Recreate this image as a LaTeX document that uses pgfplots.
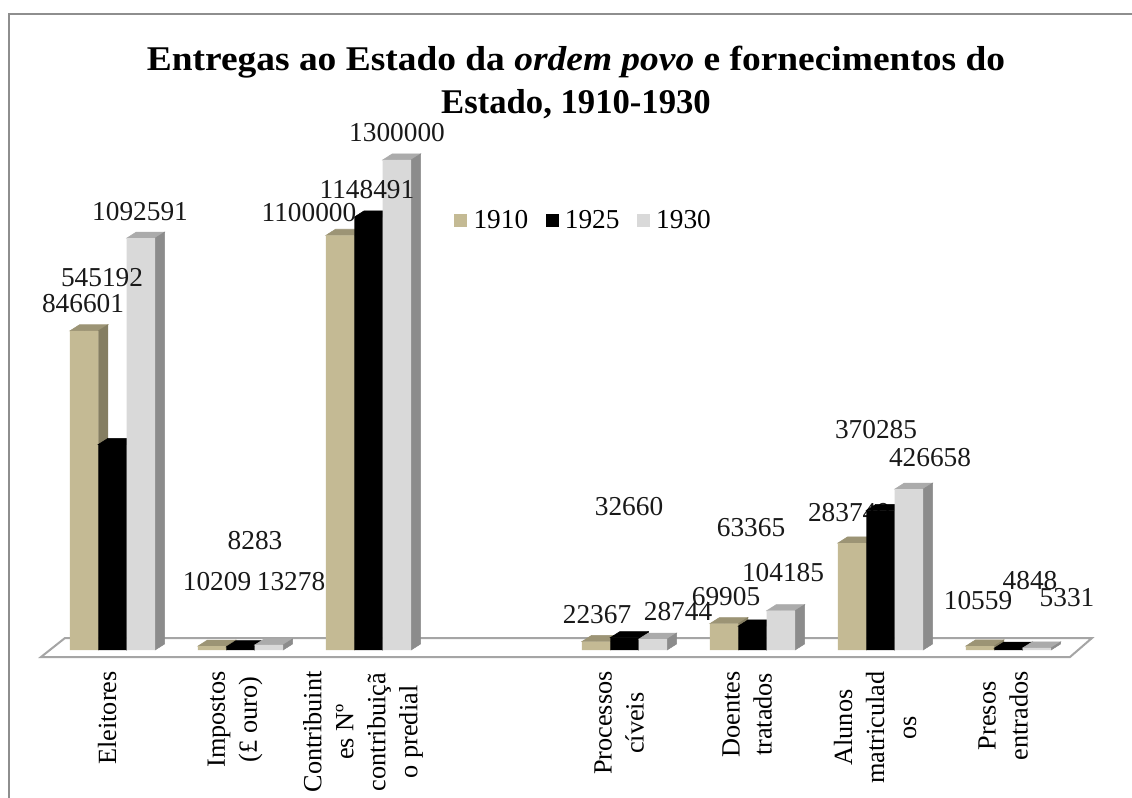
\documentclass[border=0pt]{standalone}
\usepackage{pgfplots}
\pgfplotsset{compat=1.18}
\usepackage{pgfplotstable}
\usepackage{fontspec}
\setmainfont{Liberation Serif}

\definecolor{tanF}{HTML}{C4BA94}
\definecolor{tanS}{HTML}{857E62}
\definecolor{tanT}{HTML}{9C9475}
\definecolor{greyF}{HTML}{D9D9D9}
\definecolor{greyS}{HTML}{8C8C8C}
\definecolor{greyT}{HTML}{ABABAB}
\definecolor{frame}{HTML}{8E8E8E}

% group position (3 is the empty slot of the original), value
\pgfplotstableread{
g v
0 846601
1 10209
2 1100000
4 22367
5 69905
6 283740
7 10559
}\yearA
\pgfplotstableread{
g v
0 545192
1 8283
2 1148491
4 32660
5 63365
6 370285
7 4848
}\yearB
\pgfplotstableread{
g v
0 1092591
1 13278
2 1300000
4 28744
5 104185
6 426658
7 5331
}\yearC

% 1 px of the reference = 0.75pt
\newcommand{\barw}{21.3}
\newcommand{\depx}{7.2}
\newcommand{\depy}{4.6}
\pgfplotsset{
  faces/.style n args={3}{
    only marks, mark=*, mark size=0pt, forget plot, scatter,
    visualization depends on={rawy*367.5/1300000 \as \barh},
    scatter/@pre marker code/.code={
      \pgftransformshift{\pgfqpoint{#1pt}{0pt}}
      \fill[#2] (\barw/2 pt,0pt) -- ++(\depx pt,\depy pt) -- ++(-\barw pt,0pt) -- ++(-\depx pt,-\depy pt) -- cycle;
      \fill[#3] (\barw/2 pt,0pt) -- ++(\depx pt,\depy pt) -- ++(0pt,-\barh pt) -- ++(-\depx pt,-\depy pt) -- cycle;
    },
    scatter/@post marker code/.code={},
  },
  front/.style={ybar, bar width=\barw pt, draw=none, fill=#1,
    legend image code/.code={\fill[#1] (0pt,-4.9pt) rectangle (9.8pt,4.9pt);}},
}

\begin{document}
\begin{tikzpicture}
\begin{scope}[x=0.75pt,y=-0.75pt]
  \path[use as bounding box] (0,0) rectangle (1132,798);
  \fill[white] (0,0) rectangle (1132,798);
  \draw[frame,line width=2.2pt] (9,798) -- (9,14) -- (1132,14);
  \node[font=\bfseries\fontsize{26}{32}\selectfont,align=center] at (576,82.5)
    {{\addfontfeature{FakeStretch=1.08}Entregas ao Estado da \textit{ordem povo} e fornecimentos do}\\Estado, 1910-1930};
  % floor
  \filldraw[fill=white,draw=frame!80,line width=1.5pt] (41,657) -- (65,638) -- (1092,638) -- (1070,657) -- cycle;
  % this label sits behind the black bar in the original
  \node[font=\fontsize{20.5}{24}\selectfont,text=black!90] at (849,513) {283740};
\end{scope}

\begin{axis}[
  at={(36.375pt,-487.5pt)}, anchor=south west,
  scale only axis, width=768pt, height=367.5pt,
  xmin=-0.5, xmax=7.5, ymin=0, ymax=1300000,
  clip=false, clip mode=individual,
  axis line style={draw=none}, tick style={draw=none},
  ytick=\empty, xtick={0,...,7},
  xticklabels={Eleitores,{Impostos\\(£ ouro)},{Contribuint\\es Nº\\contribuiçã\\o predial},,{Processos\\cíveis},{Doentes\\tratados},{Alunos\\matriculad\\os},{Presos\\entrados}},
  xticklabel style={rotate=90,anchor=east,align=center,font=\fontsize{19.7}{24}\selectfont,yshift=4pt},
  xticklabel shift=12.5pt,
  legend style={at={(0.392,0.845)},anchor=south west,draw=none,fill=none,font=\fontsize{20.5}{24}\selectfont,legend columns=-1,
    /tikz/every odd column/.append style={column sep=2.7pt},
    /tikz/every even column/.append style={column sep=11pt}},
]
  \addplot[faces={-21.3}{tanT}{tanS}] table[x=g,y=v]{\yearA};
  \addplot[front=tanF,bar shift=-21.3pt] table[x=g,y=v]{\yearA};
  \addplot[faces={0}{black}{black}] table[x=g,y=v]{\yearB};
  \addplot[front=black,bar shift=0pt] table[x=g,y=v]{\yearB};
  \addplot[faces={21.3}{greyT}{greyS}] table[x=g,y=v]{\yearC};
  \addplot[front=greyF,bar shift=21.3pt] table[x=g,y=v]{\yearC};
  \legend{1910,1925,1930}
\end{axis}

\begin{scope}[x=0.75pt,y=-0.75pt,every node/.style={font=\fontsize{20.5}{24}\selectfont,text=black!90}]
  \node at (83,304) {846601};
  \node at (102,278) {545192};
  \node at (140,212) {1092591};
  \node at (217,582) {10209};
  \node at (255,541) {8283};
  \node at (291,582) {13278};
  \node at (309,213) {1100000};
  \node at (367,190) {1148491};
  \node at (397,133) {1300000};
  \node at (597,615) {22367};
  \node at (629,507) {32660};
  \node at (678,612) {28744};
  \node at (726,597) {69905};
  \node at (751,528) {63365};
  \node at (783,573) {104185};
  \node at (876,430) {370285};
  \node at (930,458) {426658};
  \node at (978,601) {10559};
  \node at (1030,581) {4848};
  \node at (1067,598) {5331};
\end{scope}
\end{tikzpicture}
\end{document}
